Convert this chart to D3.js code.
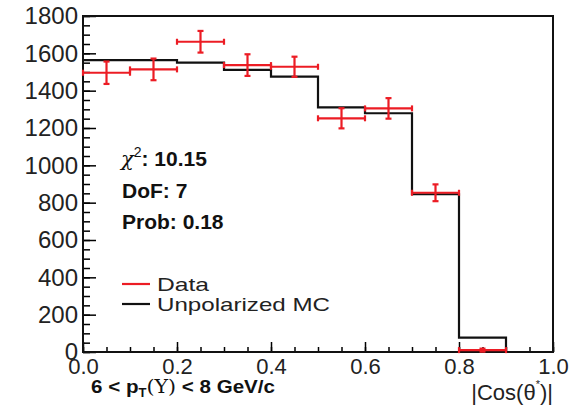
<!DOCTYPE html>
<html>
<head>
<meta charset="utf-8">
<script src="https://cdn.jsdelivr.net/npm/d3@7"></script>
<style>
  body { margin: 0; background: #fff; }
  text { font-family: "Liberation Sans", Arial, Helvetica, sans-serif; }
</style>
</head>
<body>
<div id="chart"></div>
<script>
// bins of |cos(theta*)|
const binEdges = [0, 0.1, 0.2, 0.3, 0.4, 0.5, 0.6, 0.7, 0.8, 0.9, 1.0];
// unpolarized MC histogram, one value per bin
const mcCounts = [1564, 1564, 1550, 1511, 1475, 1311, 1279, 845, 77, 0];
// measured data points
const dataX = [0.05, 0.15, 0.25, 0.35, 0.45, 0.55, 0.65, 0.75, 0.85];
const dataY = [1496, 1514, 1662, 1537, 1528, 1252, 1305, 853, 10];
const dataErr = [60, 58, 58, 58, 54, 54, 55, 45, 8];

const xTicks = [0, 0.2, 0.4, 0.6, 0.8, 1.0];
const yTicks = [0, 200, 400, 600, 800, 1000, 1200, 1400, 1600, 1800];
const statLines = ['10.15', '7', '0.18'];

const width = 572;
const height = 407;
const margin = { top: 16, right: 19, bottom: 55, left: 83 };
const red = '#ec1c24';

const svg = d3.select('#chart')
  .append('svg')
  .attr('width', width)
  .attr('height', height);

svg.append('rect').attr('width', width).attr('height', height).attr('fill', '#fff');

const x = d3.scaleLinear()
  .domain([0, 1])
  .range([margin.left, width - margin.right]);

const y = d3.scaleLinear()
  .domain([0, 1800])
  .range([height - margin.bottom, margin.top]);

// minor ticks
svg.append('g')
  .attr('transform', `translate(0, ${y(0)})`)
  .call(d3.axisBottom(x).tickValues(x.ticks(20)).tickSize(-5).tickFormat(''))
  .call(g => g.select('.domain').remove())
  .selectAll('line').attr('stroke-width', 1.5);

svg.append('g')
  .attr('transform', `translate(${x(0)}, 0)`)
  .call(d3.axisLeft(y).tickValues(y.ticks(36)).tickSize(-7).tickFormat(''))
  .call(g => g.select('.domain').remove())
  .selectAll('line').attr('stroke-width', 1.5);

// major ticks + labels
function xAxis(g) {
  g.attr('transform', `translate(0, ${y(0)})`)
    .call(d3.axisBottom(x).tickValues(xTicks).tickSize(-10).tickPadding(6).tickFormat(d3.format('.1f')))
    .attr('font-size', '22px')
    .attr('font-family', '"Liberation Sans", Arial, sans-serif')
    .call(g => g.select('.domain').remove())
    .call(g => g.selectAll('line').attr('stroke-width', 1.5))
    .call(g => g.selectAll('text').attr('fill', '#222'));
}

function yAxis(g) {
  g.attr('transform', `translate(${x(0)}, 0)`)
    .call(d3.axisLeft(y).tickValues(yTicks).tickSize(-13).tickPadding(5).tickFormat(d3.format('d')))
    .attr('font-size', '24px')
    .attr('font-family', '"Liberation Sans", Arial, sans-serif')
    .call(g => g.select('.domain').remove())
    .call(g => g.selectAll('line').attr('stroke-width', 1.5))
    .call(g => g.selectAll('text').attr('fill', '#222'));
}

svg.append('g').call(xAxis);
svg.append('g').call(yAxis);

// frame
svg.append('rect')
  .attr('x', x(0))
  .attr('y', y(1800))
  .attr('width', x(1) - x(0))
  .attr('height', y(0) - y(1800))
  .attr('fill', 'none')
  .attr('stroke', '#111')
  .attr('stroke-width', 2);

// MC histogram as a step line
const steps = [];
mcCounts.forEach((v, i) => {
  steps.push([binEdges[i], v]);
  steps.push([binEdges[i + 1], v]);
});

svg.append('path')
  .datum(steps)
  .attr('fill', 'none')
  .attr('stroke', '#111')
  .attr('stroke-width', 2.2)
  .attr('d', d3.line().x(d => x(d[0])).y(d => y(d[1])));

// data points with errors
const pts = svg.append('g')
  .attr('stroke', red)
  .attr('stroke-width', 2.2)
  .selectAll('g')
  .data(dataX.map((v, i) => ({ x: v, y: dataY[i], e: dataErr[i] })))
  .join('g');

pts.append('line')
  .attr('x1', d => x(d.x - 0.05)).attr('x2', d => x(d.x + 0.05))
  .attr('y1', d => y(d.y)).attr('y2', d => y(d.y));
pts.append('line')
  .attr('x1', d => x(d.x)).attr('x2', d => x(d.x))
  .attr('y1', d => y(d.y + d.e)).attr('y2', d => y(d.y - d.e));
// caps
pts.append('line')
  .attr('x1', d => x(d.x) - 3).attr('x2', d => x(d.x) + 3)
  .attr('y1', d => y(d.y + d.e)).attr('y2', d => y(d.y + d.e));
pts.append('line')
  .attr('x1', d => x(d.x) - 3).attr('x2', d => x(d.x) + 3)
  .attr('y1', d => y(d.y - d.e)).attr('y2', d => y(d.y - d.e));
pts.append('line')
  .attr('x1', d => x(d.x - 0.05)).attr('x2', d => x(d.x - 0.05))
  .attr('y1', d => y(d.y) - 3).attr('y2', d => y(d.y) + 3);
pts.append('line')
  .attr('x1', d => x(d.x + 0.05)).attr('x2', d => x(d.x + 0.05))
  .attr('y1', d => y(d.y) - 3).attr('y2', d => y(d.y) + 3);

// fit statistics
const stats = svg.append('g')
  .attr('font-size', '21px')
  .attr('font-weight', 'bold')
  .attr('fill', '#111');

const chi = stats.append('text').attr('x', 121).attr('y', 166);
chi.append('tspan').attr('font-weight', 'normal').attr('font-family', '"DejaVu Serif", serif').attr('font-style', 'italic').text('χ');
chi.append('tspan').attr('font-size', '14px').attr('dy', -9).attr('font-weight', 'normal').text('2');
chi.append('tspan').attr('dy', 9).text(': ' + statLines[0]);

stats.append('text').attr('x', 122).attr('y', 198).text('DoF: ' + statLines[1]);
stats.append('text').attr('x', 122).attr('y', 229).text('Prob: ' + statLines[2]);

// legend
const legend = [
  { label: 'Data', color: red, y: 284, w: 52 },
  { label: 'Unpolarized MC', color: '#111', y: 304, w: 173 }
];
const lg = svg.append('g').selectAll('g').data(legend).join('g');
lg.append('line')
  .attr('x1', 122).attr('x2', 150)
  .attr('y1', d => d.y).attr('y2', d => d.y)
  .attr('stroke', d => d.color)
  .attr('stroke-width', 2.2);
lg.append('text')
  .attr('x', 157)
  .attr('y', d => d.y + 7)
  .attr('font-size', '19px')
  .attr('textLength', d => d.w)
  .attr('lengthAdjust', 'spacingAndGlyphs')
  .attr('fill', '#222')
  .text(d => d.label);

// axis titles
const xt = svg.append('text')
  .attr('x', 91)
  .attr('y', 393)
  .attr('font-size', '19px')
  .attr('font-weight', 'bold')
  .attr('textLength', 184)
  .attr('lengthAdjust', 'spacingAndGlyphs')
  .attr('fill', '#111');
xt.append('tspan').text('6 < p');
xt.append('tspan').attr('font-size', '12px').attr('dy', 4).text('T');
xt.append('tspan').attr('dy', -4).attr('font-weight', 'normal').attr('font-family', '"DejaVu Serif", serif').text('(Υ)');
xt.append('tspan').text(' < 8 GeV/c');

const ct = svg.append('text')
  .attr('x', 553)
  .attr('y', 400)
  .attr('text-anchor', 'end')
  .attr('font-size', '22px')
  .attr('fill', '#222');
ct.append('tspan').text('|Cos(θ');
ct.append('tspan').attr('font-size', '11px').attr('dy', -12).text('*');
ct.append('tspan').attr('dy', 12).text(')|');
</script>
</body>
</html>
